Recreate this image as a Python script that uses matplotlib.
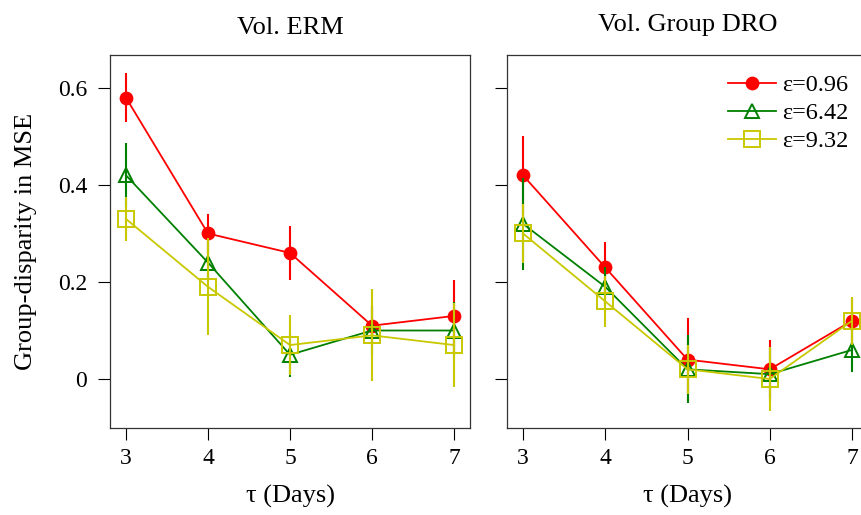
import numpy as np
import matplotlib
matplotlib.use('Agg')
import matplotlib.pyplot as plt

plt.rcParams['font.family'] = ['Liberation Serif', 'DejaVu Serif']
plt.rcParams['mathtext.fontset'] = 'stix'

# ---------------------------------------------------------------------
# dados
# ---------------------------------------------------------------------
tau = [3, 4, 5, 6, 7]
labels = ['ε=0.96', 'ε=6.42', 'ε=9.32']

erm_mean = [
    [0.58, 0.30, 0.26, 0.11, 0.13],
    [0.42, 0.24, 0.05, 0.10, 0.10],
    [0.33, 0.19, 0.07, 0.09, 0.07],
]
erm_err = [
    [0.05, 0.04, 0.055, 0.04, 0.075],
    [0.066, 0.04, 0.045, 0.05, 0.058],
    [0.045, 0.10, 0.062, 0.095, 0.087],
]

dro_mean = [
    [0.42, 0.23, 0.04, 0.02, 0.12],
    [0.32, 0.19, 0.02, 0.01, 0.06],
    [0.30, 0.16, 0.02, 0.00, 0.12],
]
dro_err = [
    [0.08, 0.053, 0.085, 0.06, 0.048],
    [0.095, 0.04, 0.07, 0.055, 0.045],
    [0.06, 0.052, 0.05, 0.065, 0.05],
]

yticks = [0, 0.2, 0.4, 0.6]
ytick_labels = ['0', '0.2', '0.4', '0.6']

# estilos das séries
cores = ['#ff0000', '#008000', '#c8c800']
marcadores = ['o', '^', 's']
tam = [8.5, 10.5, 11.5]
preench = [True, False, False]

fig = plt.figure(figsize=(8.61, 5.15), dpi=100)
ax1 = fig.add_axes([110 / 861, 87 / 515, 360 / 861, 373 / 515])
ax2 = fig.add_axes([507 / 861, 87 / 515, 361 / 861, 373 / 515])


def desenha(ax, medias, erros, titulo, pad_titulo):
    linhas = []
    for i in range(3):
        cor = cores[i]
        eb = ax.errorbar(tau, medias[i], yerr=erros[i], color=cor, lw=1.3,
                         elinewidth=1.5, capsize=0, marker=marcadores[i],
                         markersize=tam[i], markeredgewidth=1.4,
                         markerfacecolor=cor if preench[i] else 'none',
                         markeredgecolor=cor, label=labels[i], zorder=3 + i)
        linhas.append(eb[0])  # só a linha com marcador, sem a barra de erro
    ax.set_xlim(2.805, 7.195)
    ax.set_ylim(-0.101, 0.668)
    ax.set_xticks(tau)
    ax.set_yticks(yticks)
    ax.tick_params(direction='out', length=8.5, width=0.8, labelsize=17)
    ax.tick_params(axis='x', pad=6)
    ax.tick_params(axis='y', pad=8)
    for s in ax.spines.values():
        s.set_linewidth(0.9)
        s.set_color('#333333')
    ax.set_xlabel('τ (Days)', fontsize=19, labelpad=11)
    ax.set_title(titulo, fontsize=19, pad=pad_titulo)
    return linhas


desenha(ax1, erm_mean, erm_err, 'Vol. ERM', 15)
handles = desenha(ax2, dro_mean, dro_err, 'Vol. Group DRO', 17)

ax1.set_yticklabels(ytick_labels)
ax1.set_ylabel('Group-disparity in MSE', fontsize=19, labelpad=15)
ax2.set_yticklabels([])

ax2.legend(handles, labels, loc='upper right', frameon=False, fontsize=17.5,
           handlelength=1.95, handletextpad=0.25, labelspacing=0.25,
           borderaxespad=0.0, bbox_to_anchor=(0.972, 0.975))

fig.savefig('out.png', dpi=100)
